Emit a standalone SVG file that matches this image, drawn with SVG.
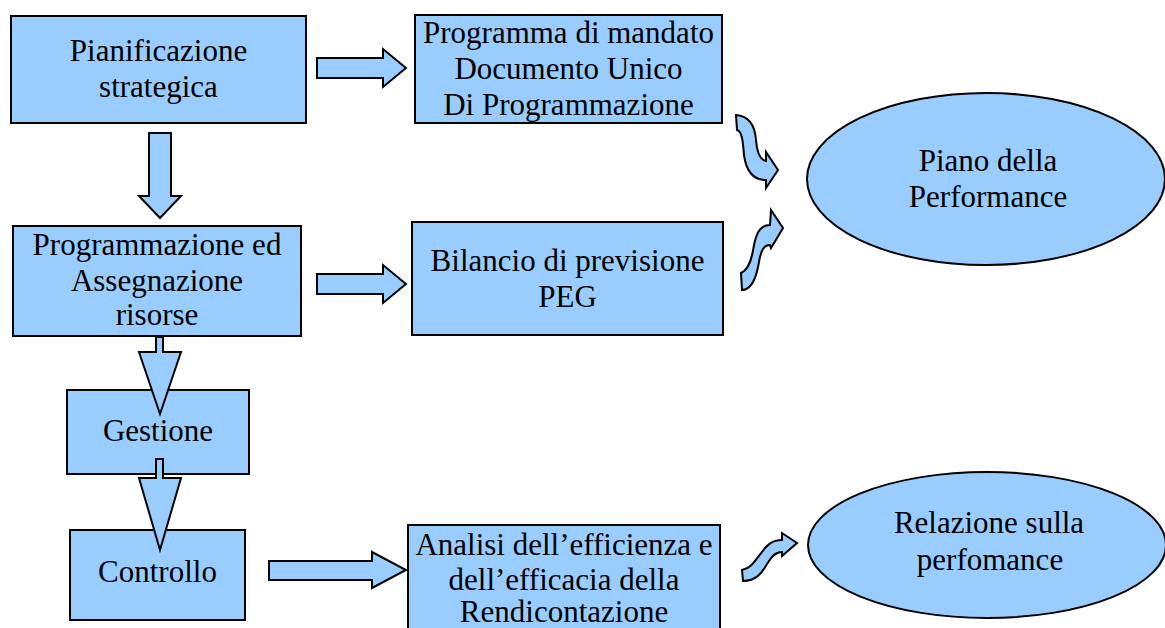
<svg xmlns="http://www.w3.org/2000/svg" width="1165" height="628" viewBox="0 0 1165 628">
<style>
.n{fill:#99ccff;stroke:#000;stroke-width:2}
.a{fill:#99ccff;stroke:#000;stroke-width:2;stroke-linejoin:miter}
text{font-family:"Liberation Serif","Times New Roman",serif;font-size:31px;fill:#000;text-anchor:middle}
</style>
<rect width="1165" height="628" fill="#fff"/>
<g id="pianificazione">
<rect class="n" x="11" y="16" width="295" height="107"/>
<text x="158.5" y="61">Pianificazione</text>
<text x="158.5" y="97">strategica</text>
</g>
<g id="programma">
<rect class="n" x="415" y="15" width="307" height="108"/>
<text x="568.5" y="43">Programma di mandato</text>
<text x="568.5" y="79">Documento Unico</text>
<text x="568.5" y="115">Di Programmazione</text>
</g>
<g id="programmazione">
<rect class="n" x="13" y="226" width="288" height="110"/>
<text x="157" y="255">Programmazione ed</text>
<text x="157" y="291">Assegnazione</text>
<text x="157" y="325">risorse</text>
</g>
<g id="bilancio">
<rect class="n" x="412" y="222" width="311" height="113"/>
<text x="567.5" y="271">Bilancio di previsione</text>
<text x="567.5" y="307">PEG</text>
</g>
<g id="gestione">
<rect class="n" x="67" y="390" width="182" height="84"/>
<text x="158" y="441">Gestione</text>
</g>
<g id="controllo">
<rect class="n" x="70" y="530" width="175" height="90"/>
<text x="157.5" y="582">Controllo</text>
</g>
<g id="analisi">
<rect class="n" x="408" y="525" width="312" height="120"/>
<text x="564" y="555">Analisi dell’efficienza e</text>
<text x="564" y="590">dell’efficacia della</text>
<text x="564" y="622">Rendicontazione</text>
</g>
<g id="piano">
<ellipse class="n" cx="986" cy="179" rx="179" ry="86"/>
<text x="988" y="171">Piano della</text>
<text x="988" y="207">Performance</text>
</g>
<g id="relazione">
<ellipse class="n" cx="987" cy="545" rx="179" ry="73"/>
<text x="989" y="533">Relazione sulla</text>
<text x="990" y="570">perfomance</text>
</g>
<g id="connectors">
<polygon class="a" points="317,58 383,58 383,49 406,68 383,87 383,78 317,78"/>
<polygon class="a" points="317,274 383,274 383,265 406,284 383,303 383,294 317,294"/>
<polygon class="a" points="269,561 372,561 372,552 406,570 372,588 372,580 269,580"/>
<polygon class="a" points="149,133 171,133 171,196 181,196 160,218 139,196 149,196"/>
<polygon class="a" points="156,337 163,337 163,352 181,352 160,414 139,352 156,352"/>
<polygon class="a" points="156,459 163,459 163,478 181,478 160,550 139,478 156,478"/>
<path class="a" d="M736,115 C749,116 755,126 756,140 C757,152 760,160 766,161 L766,152 L778,170 L766,188 L766,180 C753,180 746,170 744,155 C743,142 742,131 737,130 Z"/>
<path class="a" d="M741,273 C749,270 752,258 754,245 C757,230 762,225 770,225 L771,210 L783,228 L771,248 L770,245 C764,245 761,250 759,262 C756,280 750,290 742,290 Z"/>
<path class="a" d="M742,570 C752,568 756,559 762,552 C767,545 772,540 782,540 L782,533 L797,543 L782,556 L782,552 C775,552 771,557 767,564 C762,573 756,581 743,581 Z"/>
</g>
</svg>
